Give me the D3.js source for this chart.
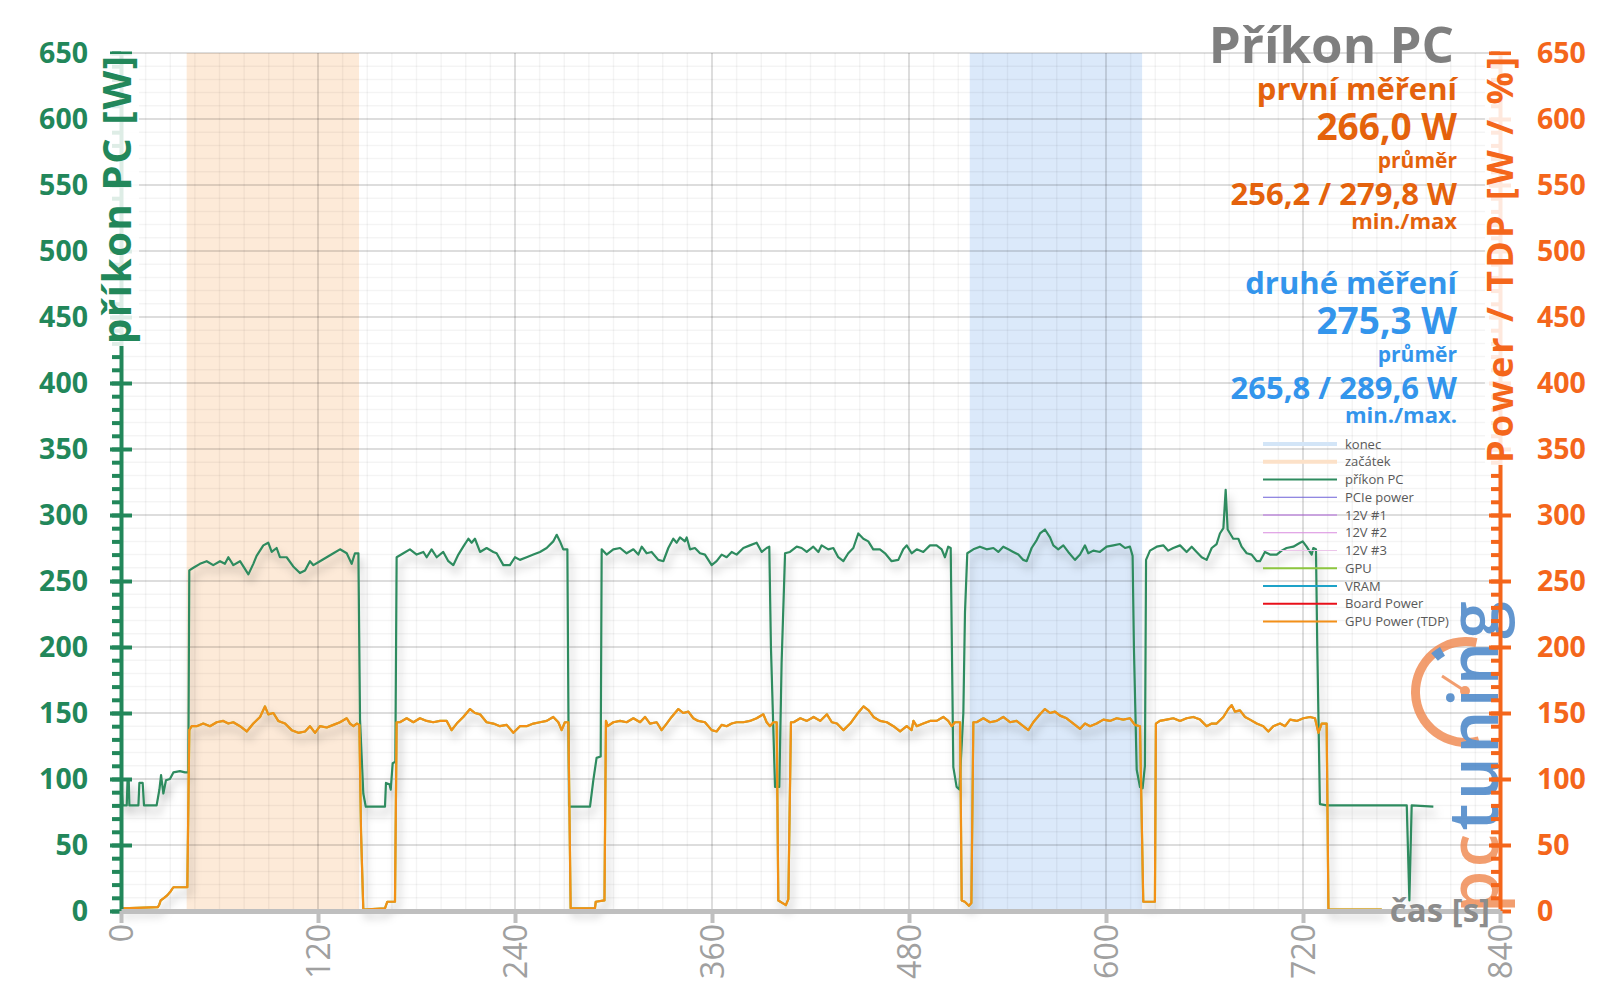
<!DOCTYPE html>
<html>
<head>
<meta charset="utf-8">
<script src="https://cdn.jsdelivr.net/npm/d3@7"></script>
<style>
  body { margin: 0; background: #fff; }
  svg { display: block; }
  text { font-family: 'Open Sans', sans-serif; }
</style>
</head>
<body>
<svg id="chart" width="1600" height="1008"></svg>
<script>
const timeTicks = [0, 120, 240, 360, 480, 600, 720, 840];
const powerTicks = [0, 50, 100, 150, 200, 250, 300, 350, 400, 450, 500, 550, 600, 650];
const startWindow = [40, 145];
const endWindow = [517, 622];

// [time s, W]
const pcPower = [
  [0,100],[1,80],[3.5,80],[4,100],[4.7,100],[5.1,80],[10.6,80],[11.2,97],[13.2,97],[14,80],[21.7,80],[23.4,92],[24.4,103],[25.8,89],[27.4,99],[29.8,100],[31.9,105],[35.9,106],[39,105],[41,105],
  [41.6,258],[44.1,260],[48.1,263],[52.2,265],[56.2,262],[60.3,265],[63.3,263],[65.4,268],[68.4,262],[72.5,265],[77.6,255],[80.6,263],[82.6,269],[86.7,277],[89.7,279],[91.8,272],[94.8,275],[96.8,268],[100.9,268],[104.9,261],[109,256],[112.1,258],[115.1,265],[117.2,262],[121.2,265],[125.3,268],[129.4,271],[133.4,274],[137.5,271],[140.5,263],[142.5,271],[144.6,271],
  [145.6,145],[147.6,89],[149.1,79],[160.8,79],[161.4,97],[163.5,96],[164.3,92],[165.5,112],[167.1,113],
  [167.9,268],[172,271],[176,274],[180.1,270],[184.2,272],[186.2,268],[189.2,274],[192.3,268],[196.3,272],[199.4,265],[202.4,262],[205.5,270],[208.5,276],[211.6,282],[213.6,279],[215.6,282],[218.7,272],[222.7,275],[226.8,272],[228.8,271],[232.9,262],[236.9,262],[240,268],[243,266],[247.1,268],[251.2,270],[255.2,272],[259.3,275],[263.3,280],[265.4,285],[267.4,280],[269.4,274],[271.9,274],
  [272.9,80],[273.5,79],[285.7,79],[287.7,99],[289.7,116],[292.2,117],
  [292.8,274],[295.8,270],[299.9,274],[304,275],[308,271],[312.1,274],[315.1,270],[317.2,276],[320.2,271],[323.2,272],[327.3,266],[330.4,265],[333.4,275],[336.4,282],[338.5,279],[340.5,283],[343.5,280],[344.6,283],[346.6,274],[349.6,275],[352.7,271],[355.7,270],[359.8,262],[362.8,265],[365.9,270],[368.9,268],[372,272],[375,270],[379.1,275],[383.1,277],[387.2,279],[390.3,272],[393.3,275],[394.9,276],
  [395.9,200],[398.4,94],[401,94],[402.4,188],
  [404.5,271],[407.5,272],[411.6,276],[414.6,275],[417.7,272],[421.7,276],[424.8,272],[426.8,277],[430.8,274],[433.9,275],[436.9,268],[440,265],[443,271],[446.1,275],[449.1,286],[452.2,282],[455.2,280],[458.2,274],[462.3,274],[465.4,271],[469.4,265],[473.5,266],[476.5,274],[478.6,277],[481.6,271],[484.7,274],[488.7,272],[492.8,277],[496.8,277],[499.9,274],[501.9,268],[503.9,276],[505.4,275],
  [507,109],[509,94],[510.7,92],[513.1,150],[514.1,226],
  [515.5,271],[519.2,274],[523.2,276],[527.3,274],[531.4,275],[534.4,272],[537.4,276],[540.5,274],[543.5,272],[546.6,270],[549.6,266],[551.7,265],[554.7,275],[557.8,281],[559.8,286],[562.8,289],[565.9,283],[567.9,277],[570.9,274],[574,277],[577,272],[581.1,266],[584.2,270],[587.2,277],[589.2,271],[592.3,273],[596.3,272],[600.4,276],[604.5,277],[608.5,278],[611.6,275],[614.6,276],[616.2,269],
  [617,200],[618.7,107],[620.7,94],[622.3,93],[623.7,110],
  [624.4,266],[626.8,273],[630.9,276],[634.9,277],[637.9,273],[641,275],[645.1,277],[649.1,272],[652.2,276],[655.2,272],[658.3,268],[661.3,266],[664.4,275],[667.4,278],[669.4,286],[671.5,290],[672.9,319],[674.1,289],[677.5,282],[680.6,282],[682.6,276],[685.7,271],[688.7,270],[691.8,265],[693.8,265],[696.8,272],[699.9,270],[704,270],[707,273],[710,275],[714.1,276],[718.2,279],[719.8,280],[722.2,276],[725.3,270],[726.3,275],[727.9,274],
  [728.7,200],[730.3,81],[734.4,80],[783.2,80],[784.8,8],[786.2,80],[799.4,79]
];

// GPU Power (TDP); the GPU series runs on top of it in the picture
const tdpPower = [
  [0,0],[1,2],[22.5,3],[23.2,4.5],[24.2,8],[26.3,10],[28.3,12],[30.3,15],[31.9,18],[40.4,18],
  [41.6,137],[43,140],[46.1,140],[50.1,142],[54.2,140],[58.3,143],[62.3,144],[65.4,142],[68.4,143],[72.5,140],[76.6,136],[80.6,142],[84.7,147],[87.7,155],[89.7,149],[92.8,150],[95.8,144],[99.9,142],[104,137],[108,135],[112.1,136],[115.1,140],[118.2,135],[121.2,140],[125.3,139],[129.4,141],[133.4,143],[137.5,146],[139.5,142],[141.6,140],[143.6,142],[145.2,141],
  [146.2,60],[147.6,1],[160.8,2],[162.2,7],[166.9,7],
  [167.9,143],[169.9,143],[174,146],[178.1,143],[182.1,146],[186.2,144],[190.2,143],[194.3,144],[198.4,144],[201.4,137],[204.5,142],[208.5,147],[212.6,153],[215.6,150],[218.7,149],[222.7,143],[226.8,142],[230.8,140],[234.9,141],[239,135],[243,140],[247.1,140],[251.2,142],[255.2,143],[259.3,144],[263.3,147],[266.4,143],[268.4,137],[270.4,143],[272.5,143],
  [273.9,2],[288.7,2],[289.2,7],[294.5,8],
  [295.4,144],[296.5,140],[299.9,143],[304,144],[308,143],[312.1,146],[316.2,143],[319.2,147],[322.2,142],[326.3,143],[329.3,137],[332.4,142],[335.4,147],[339.5,153],[342.5,150],[345.6,151],[348.6,146],[351.6,144],[355.7,143],[359.8,137],[362.8,136],[365.9,141],[368.9,140],[372,142],[375,143],[379.1,143],[383.1,144],[387.2,146],[391.3,149],[393.3,143],[395.3,140],[397.4,143],[399.4,143],
  [400.4,8],[403,6],[405,4.5],[406.5,9],
  [408.1,143],[409.7,143],[413.8,146],[417.8,144],[421.9,147],[425.9,144],[430,149],[433,143],[436.1,142],[440.1,137],[444.2,142],[448.3,149],[452.3,155],[455.4,152],[458.4,147],[462.3,144],[466.5,143],[470.5,140],[474.6,136],[478.6,140],[481.6,137],[482.7,144],[484.7,140],[488.7,142],[492.8,144],[496.8,144],[500.9,147],[503.9,144],[506,140],[508,143],[511.1,143],
  [512.1,8],[514,7],[516.5,4],[518,6],
  [519.2,143],[521.2,143],[525.3,146],[529.3,143],[533.4,144],[537.4,147],[541.5,143],[545.5,144],[549.6,140],[552.7,137],[555.7,143],[559.8,149],[562.8,153],[565.9,150],[568.9,151],[572,148],[576,146],[581.1,141],[584.2,138],[587.2,142],[590.3,140],[594.3,142],[598.4,145],[602.4,144],[606.5,146],[610.5,145],[614.6,146],[617.6,141],[620.7,140],
  [622.7,7],[629.8,7],
  [630.4,142],[632.8,144],[636.9,145],[641,146],[645.1,144],[649.1,146],[653.2,147],[657.3,145],[661.3,140],[664.4,142],[667.4,142],[671.5,147],[674.5,153],[676.5,156],[678.6,151],[681.6,152],[684.7,147],[687.7,145],[691.8,142],[695.8,140],[698.9,136],[701.9,140],[706,142],[709.1,140],[712.1,145],[716.2,144],[720.2,146],[724.3,147],[727.3,146],[729.4,135],[731.4,142],[734.4,142],
  [735.5,1],[768,1]
];

const legendNames = ['konec', 'začátek', 'příkon PC', 'PCIe power', '12V #1', '12V #2', '12V #3', 'GPU', 'VRAM', 'Board Power', 'GPU Power (TDP)'];
const firstRun = ['první měření', '266,0 W', 'průměr', '256,2 / 279,8 W', 'min./max'];
const secondRun = ['druhé měření', '275,3 W', 'průměr', '265,8 / 289,6 W', 'min./max.'];

const green = '#22875A';
const orange = '#F4661B';
const legendStyle = {
  'konec': ['#D3E5F7', 4], 'začátek': ['#FCE1C8', 4], 'příkon PC': ['#2E8B5F', 2.2],
  'PCIe power': ['#6F62D8', 1], '12V #1': ['#B56BE0', 1], '12V #2': ['#D98BDF', 1], '12V #3': ['#ECC5EA', 1],
  'GPU': ['#8DC63F', 2.2], 'VRAM': ['#1DA2C8', 2.2], 'Board Power': ['#E8101A', 2.2], 'GPU Power (TDP)': ['#F39019', 2.2]
};

const svg = d3.select('#chart');
const x = d3.scaleLinear().domain([0, 840]).range([121, 1500]);
const y = d3.scaleLinear().domain([0, 650]).range([911, 53]);

const defs = svg.append('defs');
defs.append('filter').attr('id', 'shadow').attr('x', '-5%').attr('y', '-10%').attr('width', '110%').attr('height', '130%')
  .append('feDropShadow').attr('dx', 3).attr('dy', 7).attr('stdDeviation', 4)
  .attr('flood-color', '#000').attr('flood-opacity', 0.28);

// highlighted windows
[[startWindow, '#FDEAD8'], [endWindow, '#DBE9FA']].forEach(([w, c]) => {
  svg.append('rect')
    .attr('x', x(w[0])).attr('width', x(w[1]) - x(w[0]))
    .attr('y', y(650)).attr('height', y(0) - y(650))
    .attr('fill', c);
});

// grid
const grid = svg.append('g');
grid.selectAll('.hmin').data(d3.range(0, 651, 10)).join('line')
  .attr('x1', x(0)).attr('x2', x(840)).attr('y1', y).attr('y2', y)
  .attr('stroke', '#000').attr('stroke-opacity', 0.045).attr('stroke-width', 1.5);
grid.selectAll('.vmin').data(d3.range(0, 841, 15)).join('line')
  .attr('y1', y(0)).attr('y2', y(650)).attr('x1', x).attr('x2', x)
  .attr('stroke', '#000').attr('stroke-opacity', 0.045).attr('stroke-width', 1.5);
grid.selectAll('.hmaj').data(powerTicks).join('line')
  .attr('x1', x(0)).attr('x2', x(840)).attr('y1', y).attr('y2', y)
  .attr('stroke', '#000').attr('stroke-opacity', 0.1).attr('stroke-width', 2);
grid.selectAll('.vmaj').data(timeTicks).join('line')
  .attr('y1', y(0)).attr('y2', y(650)).attr('x1', x).attr('x2', x)
  .attr('stroke', '#000').attr('stroke-opacity', 0.1).attr('stroke-width', 2);

// logo watermark
const logo = svg.append('g').attr('opacity', 0.8);
const arc = d3.arc();
logo.append('path').attr('transform', 'translate(1466,692)')
  .attr('d', arc({innerRadius: 46, outerRadius: 55, startAngle: 165 * Math.PI / 180, endAngle: 372 * Math.PI / 180}))
  .attr('fill', '#F0864C');
logo.append('path').attr('transform', 'translate(1466,692)')
  .attr('d', arc({innerRadius: 42, outerRadius: 52, startAngle: 318 * Math.PI / 180, endAngle: 330 * Math.PI / 180}))
  .attr('fill', '#3C7DC4');
logo.append('line').attr('x1', 1465).attr('y1', 691).attr('x2', 1442).attr('y2', 676)
  .attr('stroke', '#F0864C').attr('stroke-width', 3);
logo.append('circle').attr('cx', 1465).attr('cy', 691).attr('r', 5).attr('fill', '#F0864C');
const logoText = logo.append('text').attr('transform', 'translate(1498,913) rotate(-90)')
  .style('font-size', '68px').style('font-weight', 600).attr('textLength', 312);
logoText.append('tspan').attr('fill', '#F0864C').text('pc');
logoText.append('tspan').attr('fill', '#3C7DC4').text('tuning');

// series
const line = d3.line().x(d => x(d[0])).y(d => y(d[1]));
const series = svg.append('g').attr('filter', 'url(#shadow)').attr('fill', 'none')
  .attr('stroke-linejoin', 'round').attr('stroke-width', 2.2);
series.append('path').datum(pcPower).attr('d', line).attr('stroke', '#2E8B5F');
series.append('path').datum(tdpPower).attr('d', line).attr('stroke', '#8DC63F');
series.append('path').datum(tdpPower).attr('d', line).attr('stroke', '#F39019');

// left axis
const minorTicks = d3.range(0, 651, 10);
const gLm = svg.append('g').attr('transform', `translate(${x(0)},0)`)
  .call(d3.axisLeft(y).tickValues(minorTicks).tickSize(9).tickSizeOuter(0).tickFormat(''));
gLm.select('.domain').remove();
gLm.selectAll('line').attr('stroke', green).attr('stroke-width', 4);
const gL = svg.append('g').attr('transform', `translate(${x(0)},0)`)
  .call(d3.axisLeft(y).tickValues(powerTicks).tickSize(11).tickSizeOuter(0).tickPadding(22));
gL.select('.domain').attr('stroke', green).attr('stroke-width', 4);
gL.selectAll('.tick line').attr('x1', 11).attr('stroke', green).attr('stroke-width', 4);
gL.selectAll('text').attr('fill', green).style('font-size', '28.5px').style('font-weight', 700)
  .style('font-family', "'Open Sans', sans-serif");

// right axis
const gRm = svg.append('g').attr('transform', `translate(${x(840)},0)`)
  .call(d3.axisLeft(y).tickValues(minorTicks).tickSize(9).tickSizeOuter(0).tickFormat(''));
gRm.select('.domain').remove();
gRm.selectAll('line').attr('stroke', orange).attr('stroke-width', 4);
const gR = svg.append('g').attr('transform', `translate(${x(840)},0)`)
  .call(d3.axisRight(y).tickValues(powerTicks).tickSize(11).tickSizeOuter(0).tickPadding(26));
gR.select('.domain').attr('stroke', orange).attr('stroke-width', 4);
gR.selectAll('.tick line').attr('x1', -11).attr('stroke', orange).attr('stroke-width', 4);
gR.selectAll('text').attr('fill', orange).style('font-size', '28.5px').style('font-weight', 700)
  .style('font-family', "'Open Sans', sans-serif");

// bottom axis
const gB = svg.append('g').attr('transform', `translate(0,${y(0)})`)
  .call(d3.axisBottom(x).tickValues(timeTicks).tickSize(12).tickSizeOuter(0));
gB.select('.domain').attr('stroke', '#BFBFBF').attr('stroke-width', 5);
gB.selectAll('.tick line').attr('stroke', '#BFBFBF').attr('stroke-width', 4);
gB.selectAll('text')
  .attr('transform', 'rotate(-90)').attr('x', -13).attr('y', 0).attr('dy', '0.36em')
  .attr('text-anchor', 'end').attr('fill', '#A0A0A0')
  .style('font-size', '32px').style('font-family', "'Open Sans', sans-serif");

// axis titles with a soft white box behind them
function axisTitle(label, tx, ty, size, len, color) {
  const g = svg.append('g');
  const bg = g.append('rect').attr('fill', '#fff').attr('opacity', 0.85);
  const t = g.append('text').attr('transform', `translate(${tx},${ty}) rotate(-90)`)
    .attr('text-anchor', 'end').attr('fill', color)
    .style('font-size', size + 'px').style('font-weight', 700)
    .attr('textLength', len).attr('lengthAdjust', 'spacing').text(label);
  const b = t.node().getBBox();
  bg.attr('x', tx - size * 0.78).attr('width', size * 0.98).attr('y', ty - 2).attr('height', b.width + 4);
}
axisTitle('příkon PC [W]', 131, 56, 40, 288, green);
axisTitle('Power / TDP [W / %]', 1513, 57, 36, 406, orange);

svg.append('text').attr('x', 1490).attr('y', y(0)).attr('dy', '0.33em')
  .attr('text-anchor', 'end').attr('fill', '#8C8C8C')
  .style('font-size', '33px').style('font-weight', 700).text('čas [s]');

// summary block
const summary = svg.append('g').attr('text-anchor', 'end').style('font-weight', 700);
summary.append('text').attr('x', 1454).attr('y', 63).attr('fill', '#7F7F7F')
  .style('font-size', '51px').text('Příkon PC');
const blockRows = [[100, 31], [140, 37], [168, 21], [205, 31], [229, 22]];
[[firstRun, '#E4620C', 0], [secondRun, '#3395EC', 194]].forEach(([rows, color, dy]) => {
  rows.forEach((txt, i) => {
    summary.append('text').attr('x', 1457).attr('y', blockRows[i][0] + dy)
      .attr('fill', color).style('font-size', blockRows[i][1] + 'px').text(txt);
  });
});

// legend
const legend = svg.append('g');
legendNames.forEach((name, i) => {
  const ly = 444 + i * 17.75;
  const [c, w] = legendStyle[name];
  legend.append('line').attr('x1', 1263).attr('x2', 1337).attr('y1', ly).attr('y2', ly)
    .attr('stroke', c).attr('stroke-width', w);
  legend.append('text').attr('x', 1345).attr('y', ly).attr('dy', '0.35em')
    .attr('fill', '#595959').style('font-size', '13px').text(name);
});
</script>
</body>
</html>
